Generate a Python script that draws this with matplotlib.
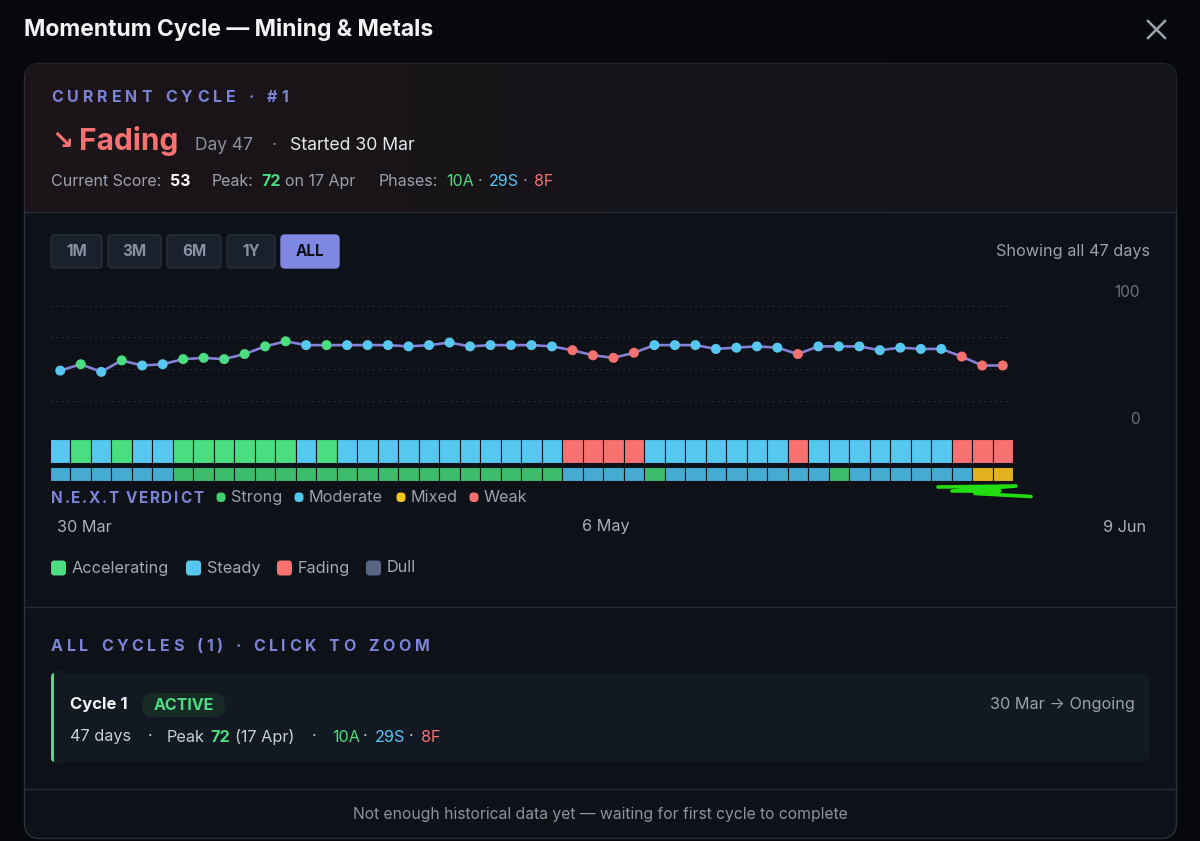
import numpy as np
import matplotlib
matplotlib.use('Agg')
import matplotlib.pyplot as plt
from matplotlib.patches import FancyBboxPatch
from matplotlib.colors import LinearSegmentedColormap

plt.rcParams['font.family'] = ['Inter', 'DejaVu Sans']

# ---- data ----------------------------------------------------------------
score = [49, 54, 48, 57, 53, 54, 58, 59, 58, 62, 68, 72, 69, 69, 69, 69,
         69, 68, 69, 71, 68, 69, 69, 69, 68, 65, 61, 59, 63, 69, 69, 69,
         66, 67, 68, 67, 62, 68, 68, 68, 65, 67, 66, 66, 60, 53, 53]
# phase per day: A = accelerating, S = steady, F = fading
phase = list('SASASSAAAAAASASS' 'SSSSSSSSSFFFFSSS' 'SSSSFSSSSSSSFFF')
# N.E.X.T verdict per day: G = strong, M = moderate, X = mixed, W = weak
verdict = list('MMMMMMGGGGGGGGGG' 'GGGGGGGGGMMMMGMM' 'MMMMMMGMMMMMMXX')
date_labels = ['30 Mar', '6 May', '9 Jun']
yaxis_labels = [100, 0]
grid_levels = [25, 50, 75, 100]

phase_col = {'A': '#4ade80', 'S': '#56c8f0', 'F': '#f87171', 'D': '#5b6782'}
verdict_col = {'G': '#3dbd6b', 'M': '#46abd0', 'X': '#e2b21f', 'W': '#f07070'}

BG = '#06080c'
CARD = '#0e1117'
LAV = '#7c84d8'
MUTED = '#9aa1ad'

days = np.arange(len(score))

fig = plt.figure(figsize=(12, 8.41), dpi=100)
fig.patch.set_facecolor(BG)
bg = fig.add_axes([0, 0, 1, 1])
bg.axis('off')


def reset():
    bg.set_xlim(0, 1200)
    bg.set_ylim(841, 0)


reset()
R = fig.canvas.get_renderer()


def tracked(x, y, s, gap, space, **kw):
    # letter-spaced caps text, drawn char by char
    for ch in s:
        if ch == ' ':
            x += space
            continue
        t = bg.text(x, y, ch, ha='left', va='baseline', **kw)
        x += t.get_window_extent(R).width + gap
    return x


def txt(x, y, s, **kw):
    kw.setdefault('va', 'center')
    kw.setdefault('ha', 'left')
    return bg.text(x, y, s, **kw)


# ---- title + close -------------------------------------------------------
txt(24, 29, 'Momentum Cycle \u2014 Mining & Metals', fontsize=16.5,
    fontweight='bold', color='#f3f4f6')
bg.plot([1148, 1165], [21, 38], color='#9ca3af', lw=1.8)
bg.plot([1148, 1165], [38, 21], color='#9ca3af', lw=1.8)

# ---- card ---------------------------------------------------------------
card = FancyBboxPatch((24.5, 63.5), 1152, 775, boxstyle='round,pad=0,rounding_size=16',
                      fc=CARD, ec='#29313d', lw=1.0, zorder=0)
bg.add_patch(card)
cm = LinearSegmentedColormap.from_list('hdr', ['#1c1418', '#161419', '#12141a'])
im = bg.imshow(np.linspace(0, 1, 256)[None, :], extent=[24.5, 1176.5, 212, 63.5],
               cmap=cm, aspect='auto', zorder=0.5)
im.set_clip_path(card)
reset()
for yy in (212, 607, 789):
    bg.plot([25, 1176], [yy, yy], color='#242b36', lw=1, zorder=1)

# ---- header section -----------------------------------------------------
tracked(51, 102, 'CURRENT CYCLE \u00b7 #1', 4.1, 9, fontsize=11.5,
        fontweight='bold', color=LAV)
txt(51, 142, '\u2198', fontsize=19, fontweight='bold', color='#f87171',
    family='DejaVu Sans')
txt(79, 141, 'Fading', fontsize=21.5, fontweight='bold', color='#f87171')
txt(195, 145, 'Day 47', fontsize=12.5, color='#8b92a0')
txt(272, 145, '\u00b7', fontsize=12.5, color='#8b92a0')
txt(290, 145, 'Started 30 Mar', fontsize=12.7, color='#e5e7eb')

txt(51, 181, 'Current Score:', fontsize=11.5, color=MUTED)
txt(170, 181, '53', fontsize=11.5, fontweight='bold', color='#ffffff')
txt(212, 181, 'Peak:', fontsize=11.5, color=MUTED)
txt(261, 181, '72', fontsize=11.5, fontweight='bold', color='#4ade80')
txt(285, 181, 'on 17 Apr', fontsize=11.5, color=MUTED)
txt(379, 181, 'Phases:', fontsize=11.5, color=MUTED)
txt(446, 181, '10A', fontsize=11.5, color='#4ade80')
txt(478, 181, '\u00b7', fontsize=11.5, color=MUTED)
txt(489, 181, '29S', fontsize=11.5, color='#56c8f0')
txt(523, 181, '\u00b7', fontsize=11.5, color=MUTED)
txt(534, 181, '8F', fontsize=11.5, color='#f87171')

# ---- range buttons ------------------------------------------------------
buttons = [('1M', 51, 102), ('3M', 108, 161), ('6M', 167, 221),
           ('1Y', 227, 275), ('ALL', 281, 339)]
for lab, x0, x1 in buttons:
    active = lab == 'ALL'
    bg.add_patch(FancyBboxPatch((x0, 235), x1 - x0, 33, boxstyle='round,pad=0,rounding_size=4',
                                fc='#7f88e3' if active else '#1a202c',
                                ec='#7f88e3' if active else '#28303e', lw=1))
    txt((x0 + x1) / 2, 251.5, lab, ha='center', fontsize=11, fontweight='bold',
        color='#0d1017' if active else '#8791a3')
txt(1150, 251, 'Showing all 47 days', ha='right', fontsize=11.7, color=MUTED)

# ---- score line ---------------------------------------------------------
ax = fig.add_axes([50 / 1200, (841 - 433) / 841, 963 / 1200, 128 / 841])
ax.set_facecolor('none')
ax.plot(days, score, color='#8580d6', lw=1.9, zorder=2)
ax.scatter(days, score, c=[phase_col[p] for p in phase], s=52, zorder=3,
           edgecolors='none', clip_on=False)
ax.set_xlim(-0.5, len(score) - 0.5)
ax.set_ylim(0, 100.5)
ax.set_yticks(grid_levels)
ax.set_xticks([])
ax.grid(axis='y', ls=(0, (2, 3)), color='#262d39', lw=0.8)
ax.tick_params(length=0, labelleft=False)
for s in ax.spines.values():
    s.set_visible(False)
for v in yaxis_labels:
    ax.annotate(str(v), xy=(1.132, v), xycoords=ax.get_yaxis_transform(),
                xytext=(0, 9.5), textcoords='offset points', ha='right', va='center',
                fontsize=11, color='#6b7280', annotation_clip=False)

# ---- phase strip + verdict strip ----------------------------------------
ax2 = fig.add_axes([50 / 1200, (841 - 463) / 841, 963 / 1200, 24 / 841])
ax2.bar(days, np.ones(len(days)), width=1, color=[phase_col[p] for p in phase],
        edgecolor='#10141b', linewidth=0.8)
ax3 = fig.add_axes([50 / 1200, (841 - 480.5) / 841, 963 / 1200, 13.5 / 841])
ax3.bar(days, np.ones(len(days)), width=1, color=[verdict_col[v] for v in verdict],
        edgecolor='#10141b', linewidth=0.8)
for a in (ax2, ax3):
    a.set_xlim(-0.5, len(days) - 0.5)
    a.set_ylim(0, 1)
    a.axis('off')

# hand-drawn green underline on the screenshot
bg.plot([938, 1016, 952, 1000, 975, 1031], [487, 486, 491, 491, 493.5, 496.5],
        color='#22dd11', lw=2.6, solid_capstyle='round', solid_joinstyle='round', zorder=5)

# ---- verdict legend -----------------------------------------------------
tracked(51, 502.5, 'N.E.X.T VERDICT', 1.7, 5, fontsize=11, fontweight='bold', color=LAV)
vleg = [('Strong', 221, '#3fd070'), ('Moderate', 299, '#4fc8f0'),
        ('Mixed', 401, '#f5c518'), ('Weak', 474, '#f87171')]
for lab, x0, c in vleg:
    bg.add_patch(FancyBboxPatch((x0 - 4.5, 492.5), 9, 9.5, boxstyle='round,pad=0,rounding_size=4',
                                fc=c, ec='none'))
    txt(x0 + 10, 497, lab, fontsize=11.7, color=MUTED)

# ---- date labels --------------------------------------------------------
txt(57, 527, date_labels[0], fontsize=11.7, color='#aab0ba')
txt(606, 527, date_labels[1], ha='center', fontsize=11.7, color='#aab0ba')
txt(1146, 527, date_labels[2], ha='right', fontsize=11.7, color='#aab0ba')

# ---- phase legend -------------------------------------------------------
pleg = [('Accelerating', 51, 'A'), ('Steady', 186, 'S'), ('Fading', 277, 'F'), ('Dull', 366, 'D')]
for lab, x0, k in pleg:
    bg.add_patch(FancyBboxPatch((x0, 560.5), 15, 15, boxstyle='round,pad=0,rounding_size=3.5',
                                fc=phase_col[k], ec='none'))
    txt(x0 + 21, 568, lab, fontsize=11.7, color='#a3aab5')

# ---- all cycles ---------------------------------------------------------
tracked(51, 651, 'ALL CYCLES (1) \u00b7 CLICK TO ZOOM', 3.8, 8.5, fontsize=11.5,
        fontweight='bold', color=LAV)
bg.add_patch(FancyBboxPatch((51, 673), 1099, 89, boxstyle='round,pad=0,rounding_size=9',
                            fc='#131923', ec='none'))
bg.add_patch(FancyBboxPatch((51, 673), 8, 89, boxstyle='round,pad=0,rounding_size=4',
                            fc='#4ade80', ec='none'))
bg.add_patch(plt.Rectangle((53.5, 671), 10, 93, fc='#131923', ec='none'))
txt(70, 705, 'Cycle 1', fontsize=12, fontweight='bold', color='#f3f4f6')
bg.add_patch(FancyBboxPatch((142, 693), 83, 24, boxstyle='round,pad=0,rounding_size=11',
                            fc='#182a25', ec='none'))
txt(183.5, 705, 'ACTIVE', ha='center', fontsize=11.5, fontweight='bold', color='#4ade80')
txt(1135, 705, '30 Mar \u2192 Ongoing', ha='right', fontsize=11.7, color=MUTED)

txt(70, 737, '47 days', fontsize=11.7, color='#c9ced6')
txt(148, 737, '\u00b7', fontsize=11.5, color='#c9ced6')
txt(167, 737, 'Peak', fontsize=11.7, color='#c9ced6')
txt(210, 737, '72', fontsize=11.7, fontweight='bold', color='#4ade80')
txt(235, 737, '(17 Apr)', fontsize=11.7, color='#c9ced6')
txt(312, 737, '\u00b7', fontsize=11.5, color='#c9ced6')
txt(332, 737, '10A', fontsize=11.7, color='#4ade80')
txt(363, 737, '\u00b7', fontsize=11.5, color='#c9ced6')
txt(375, 737, '29S', fontsize=11.7, color='#56c8f0')
txt(409, 737, '\u00b7', fontsize=11.5, color='#c9ced6')
txt(421, 737, '8F', fontsize=11.7, color='#f87171')

txt(600, 815, 'Not enough historical data yet \u2014 waiting for first cycle to complete',
    ha='center', fontsize=11.3, color='#8b93a1')

reset()
fig.savefig('out.png', dpi=100, facecolor=BG)
